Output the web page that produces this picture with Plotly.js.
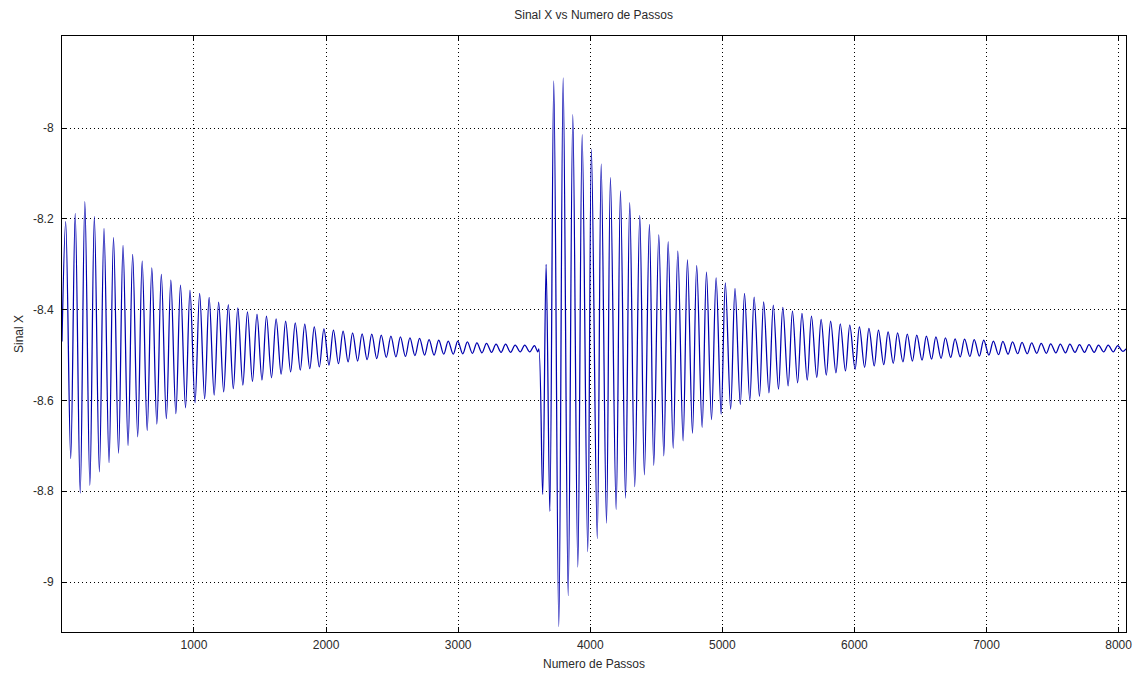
<!DOCTYPE html>
<html>
<head>
<meta charset="utf-8">
<script src="https://cdn.plot.ly/plotly-3.0.1.min.js"></script>
<style>html,body{margin:0;padding:0;background:#fff}#chart{width:1135px;height:675px}</style>
</head>
<body>
<div id="chart"></div>
<script>
// Values (extremes of each oscillation)
const passosInicio = [1];
const sinalInicio = [-8.47];

const passosMax1 = [29,101,174,246,319,391,463,536,608,681,753,825,898,970,1043,1115,1187,1260,1332,1405,1477,1549,1622,1694,1767,1839,1911,1984,2056,2129,2201,2273,2346,2418,2491,2563,2635,2708,2780,2853,2925,2997,3070,3142,3215,3287,3359,3432,3504,3577];
const sinalMax1 = [-8.206,-8.188,-8.162,-8.195,-8.221,-8.241,-8.258,-8.278,-8.293,-8.308,-8.322,-8.335,-8.346,-8.357,-8.364,-8.373,-8.383,-8.389,-8.396,-8.405,-8.410,-8.414,-8.420,-8.425,-8.429,-8.432,-8.438,-8.442,-8.445,-8.447,-8.451,-8.453,-8.454,-8.456,-8.458,-8.460,-8.462,-8.463,-8.466,-8.467,-8.469,-8.469,-8.471,-8.473,-8.474,-8.476,-8.476,-8.478,-8.478,-8.479];

const passosMin1 = [67,139,212,284,357,429,501,574,646,719,791,863,936,1008,1081,1153,1225,1298,1370,1443,1515,1587,1660,1732,1805,1877,1949,2022,2094,2167,2239,2311,2384,2456,2529,2601,2673,2746,2818,2891,2963,3035,3108,3180,3253,3325,3397,3470,3542,3603];
const sinalMin1 = [-8.728,-8.804,-8.787,-8.757,-8.737,-8.716,-8.699,-8.680,-8.666,-8.652,-8.640,-8.629,-8.616,-8.605,-8.596,-8.588,-8.581,-8.574,-8.566,-8.558,-8.555,-8.550,-8.542,-8.537,-8.533,-8.530,-8.526,-8.522,-8.519,-8.515,-8.513,-8.510,-8.508,-8.505,-8.504,-8.503,-8.501,-8.500,-8.500,-8.498,-8.498,-8.497,-8.496,-8.495,-8.494,-8.494,-8.494,-8.493,-8.493,-8.493];

const passosTransicao = [3611];
const sinalTransicao = [-8.486];

const passosMax2 = [3666,3724,3795,3868,3939,4009,4083,4153,4229,4299,4375,4448,4519,4590,4663,4736,4806,4880,4953,5023,5096,5168,5241,5313,5386,5458,5531,5603,5675,5748,5820,5893,5965,6038,6110,6182,6255,6327,6400,6472,6545,6617,6689,6762,6834,6907,6979,7052,7124,7197,7269,7342,7414,7486,7559,7631,7704,7776,7848,7921,7993];
const sinalMax2 = [-8.300,-7.896,-7.889,-7.970,-8.014,-8.046,-8.079,-8.109,-8.138,-8.164,-8.192,-8.212,-8.235,-8.250,-8.271,-8.290,-8.303,-8.317,-8.330,-8.341,-8.353,-8.364,-8.372,-8.383,-8.390,-8.395,-8.403,-8.408,-8.414,-8.421,-8.425,-8.431,-8.434,-8.438,-8.441,-8.445,-8.449,-8.451,-8.454,-8.456,-8.458,-8.460,-8.462,-8.464,-8.465,-8.466,-8.467,-8.469,-8.470,-8.471,-8.472,-8.473,-8.474,-8.475,-8.476,-8.476,-8.477,-8.477,-8.478,-8.478,-8.479];

const passosMin2 = [3640,3694,3762,3833,3906,3981,4053,4123,4196,4267,4337,4410,4481,4557,4628,4703,4774,4847,4918,4991,5063,5136,5208,5281,5353,5425,5498,5570,5643,5715,5787,5860,5932,6005,6077,6150,6222,6294,6367,6439,6512,6584,6656,6729,6801,6874,6946,7018,7091,7163,7236,7308,7380,7453,7525,7598,7670,7742,7815,7887,7960,8032];
const sinalMin2 = [-8.807,-8.844,-9.098,-9.030,-8.967,-8.933,-8.904,-8.870,-8.840,-8.815,-8.790,-8.764,-8.743,-8.722,-8.705,-8.689,-8.672,-8.659,-8.642,-8.630,-8.619,-8.609,-8.600,-8.591,-8.583,-8.575,-8.568,-8.561,-8.555,-8.549,-8.544,-8.539,-8.535,-8.531,-8.527,-8.524,-8.521,-8.518,-8.515,-8.513,-8.511,-8.509,-8.507,-8.505,-8.504,-8.503,-8.502,-8.500,-8.499,-8.498,-8.497,-8.497,-8.496,-8.496,-8.495,-8.495,-8.494,-8.494,-8.494,-8.493,-8.493,-8.492];

const passosFim = [8056];
const sinalFim = [-8.486];

const xTickVals = [1000,2000,3000,4000,5000,6000,7000,8000];
const xTickText = ['1000','2000','3000','4000','5000','6000','7000','8000'];
const yTickVals = [-9,-8.8,-8.6,-8.4,-8.2,-8];
const yTickText = ['-9','-8.8','-8.6','-8.4','-8.2','-8'];

// merge all points in step order
const pts = [];
function add(xs, ys){ for (let i=0;i<xs.length;i++) pts.push([xs[i], ys[i]]); }
add(passosInicio, sinalInicio);
add(passosMax1, sinalMax1);
add(passosMin1, sinalMin1);
add(passosTransicao, sinalTransicao);
add(passosMax2, sinalMax2);
add(passosMin2, sinalMin2);
add(passosFim, sinalFim);
pts.sort((a,b)=>a[0]-b[0]);

const trace = {
  x: pts.map(p=>p[0]),
  y: pts.map(p=>p[1]),
  type: 'scatter',
  mode: 'lines',
  line: {color: 'rgb(0,0,175)', width: 1.25, shape: 'spline', smoothing: 1},
  hoverinfo: 'x+y'
};

const fontFam = 'Liberation Sans Narrow, Liberation Sans, Arial, sans-serif';
const txtCol = '#2a2a2a';
const layout = {
  width: 1135, height: 675,
  margin: {l: 62, r: 9, t: 36, b: 43, pad: 0},
  paper_bgcolor: '#ffffff', plot_bgcolor: '#ffffff',
  showlegend: false,
  font: {family: fontFam, size: 12, color: txtCol},
  title: {text: 'Sinal X vs Numero de Passos', x: 0.523, xanchor: 'center', y: 0.978, yanchor: 'middle', font: {family: fontFam, size: 12, color: txtCol}},
  xaxis: {
    range: [1, 8056], tickmode: 'array', tickvals: xTickVals, ticktext: xTickText,
    ticks: 'inside', ticklen: 5, tickcolor: '#000', tickwidth: 1,
    showline: true, linecolor: '#000', linewidth: 1, mirror: 'ticks',
    showgrid: true, gridcolor: '#000', gridwidth: 1, griddash: '1px,3px',
    zeroline: false, automargin: false, ticklabelstandoff: 2,
    tickfont: {family: fontFam, size: 12, color: txtCol},
    title: {text: 'Numero de Passos', standoff: 8, font: {family: fontFam, size: 12, color: txtCol}}
  },
  yaxis: {
    range: [-9.11, -7.797], tickmode: 'array', tickvals: yTickVals, ticktext: yTickText,
    ticks: 'inside', ticklen: 5, tickcolor: '#000', tickwidth: 1,
    showline: true, linecolor: '#000', linewidth: 1, mirror: 'ticks',
    showgrid: true, gridcolor: '#000', gridwidth: 1, griddash: '1px,3px',
    zeroline: false, automargin: false, ticklabelstandoff: 5,
    tickfont: {family: fontFam, size: 12, color: txtCol},
    title: {text: 'Sinal X', standoff: 6, font: {family: fontFam, size: 12, color: txtCol}}
  }
};

Plotly.newPlot('chart', [trace], layout, {displayModeBar: false, staticPlot: true});
</script>
</body>
</html>
